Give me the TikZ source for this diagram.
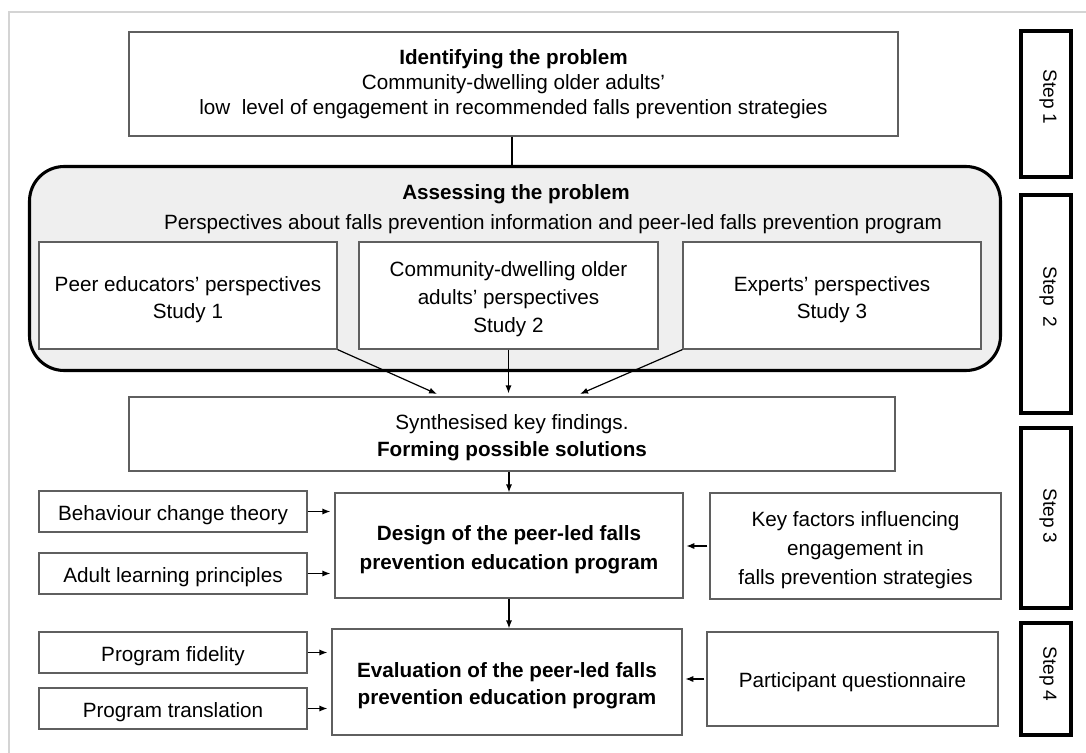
\documentclass[tikz,border=0pt]{standalone}
\usepackage{fontspec}
\setmainfont{Liberation Sans}
\usetikzlibrary{arrows.meta}
\definecolor{boxline}{RGB}{95,95,95}
\definecolor{panelfill}{RGB}{239,239,239}
\definecolor{framegray}{RGB}{212,212,212}
\begin{document}
\begin{tikzpicture}[x=0.75pt,y=-0.75pt,
  sz/.style 2 args={minimum width=#1*0.75pt, minimum height=#2*0.75pt},
  txt/.style={font=\fontsize{15.5}{20}\selectfont, align=center, inner sep=0pt},
  frame/.style={draw=boxline, line width=0.9pt, fill=white},
  % one-line boxes: the strut lifts the line's top so the words sit a little low
  box/.style={frame, txt, execute at begin node={\rule{0pt}{16.5pt}}},
  % text block of a multi-line box, set a little below the box centre
  inbox/.style={txt, yshift=-3pt},
  stepbox/.style={draw=black, line width=3pt, fill=white, inner sep=0pt},
  steplabel/.style={rotate=-90, font=\fontsize{14.3}{17}\selectfont, inner sep=0pt},
  arr/.style={-{Latex[length=6pt,width=4.6pt]}, line width=0.9pt, black},
]
\useasboundingbox (0,0) rectangle (1086,753);
% light page frame
\draw[framegray, line width=1.2pt] (9,760) -- (9,12) -- (1090,12);

% step 1
\node[frame, sz={769}{104}] (ident) at (513.5,84) {};
\node[txt, font=\fontsize{15.5}{18.75}\selectfont] (identt) at (ident.center)
  {\textbf{Identifying the problem}\\Community-dwelling older adults'\\low\ \ level of engagement in recommended falls prevention strategies};

% step 2 panel
\node[draw=black, line width=2.3pt, fill=panelfill, rounded corners=26pt, sz={971}{204}] (assess) at (515,268.5) {};
\node[txt, font=\bfseries\fontsize{15.5}{20}\selectfont] (assesst) at (516,194) {Assessing the problem};
\node[txt] (assesss) at (553,224) {Perspectives about falls prevention information and peer-led falls prevention program};
\node[frame, sz={298}{107}] (s1) at (188,295.5) {};
\node[inbox] (s1t) at (s1.center) {Peer educators' perspectives\\Study 1};
\node[frame, sz={299}{107}] (s2) at (508.5,295.5) {};
\node[inbox, font=\fontsize{15.5}{21}\selectfont] (s2t) at (s2.center) {Community-dwelling older\\adults' perspectives\\Study 2};
\node[frame, sz={298}{107}] (s3) at (832,295.5) {};
\node[inbox] (s3t) at (s3.center) {Experts' perspectives\\Study 3};

\node[frame, sz={766}{74}] (synth) at (512,434) {};
\node[inbox] (syntht) at (synth.center) {Synthesised key findings.\\\textbf{Forming possible solutions}};

% step 3
\node[box, sz={268}{41}] (beh) at (173,511.5) {Behaviour change theory};
\node[box, sz={268}{41}] (adult) at (173,573.5) {Adult learning principles};
\node[frame, sz={348}{105}] (design) at (509,545.5) {};
\node[inbox, font=\bfseries\fontsize{15.5}{21.5}\selectfont] (designt) at (design.center) {Design of the peer-led falls\\prevention education program};
\node[frame, sz={291}{106}] (key) at (855.5,546) {};
\node[inbox, font=\fontsize{15.5}{21.5}\selectfont] (keyt) at (key.center) {Key factors influencing\\engagement in\\falls prevention strategies};

% step 4
\node[box, sz={268}{41}] (fid) at (173,652.5) {Program fidelity};
\node[box, sz={268}{41}] (trans) at (173,708.5) {Program translation};
\node[frame, sz={350}{106}] (eval) at (507,682) {};
\node[inbox, font=\bfseries\fontsize{15.5}{20.5}\selectfont] (evalt) at (eval.center) {Evaluation of the peer-led falls\\prevention education program};
\node[box, sz={291}{94}] (part) at (852.5,679) {Participant questionnaire};

% step markers
\node[stepbox, sz={50}{146}] (st1) at (1046,104) {};
\node[steplabel] (st1t) at (1048,97) {Step 1};
\node[stepbox, sz={50}{218}] (st2) at (1046,304) {};
\node[steplabel] (st2t) at (1048,297) {Step\ \ 2};
\node[stepbox, sz={50}{180}] (st3) at (1046,518) {};
\node[steplabel] (st3t) at (1048,516) {Step 3};
\node[stepbox, sz={50}{112}] (st4) at (1046,679) {};
\node[steplabel] (st4t) at (1048,674) {Step 4};

% connectors
\draw[line width=0.9pt] (ident.south -| 512,0) -- (assess.north -| 512,0);
\coordinate (in1) at (437,394);
\coordinate (in3) at (580,394);
\draw[arr] (s1.south east) -- (in1);
\draw[arr] (s2.south) -- ([yshift=2.25pt]synth.north -| s2.south);
\draw[arr] (s3.south west) -- (in3);
\draw[arr] (synth.south -| 509,0) -- (design.north -| 509,0);
\draw[arr] (design.south -| 509,0) -- (eval.north -| 509,0);
\draw[arr, shorten >=3pt] (beh.east) -- (beh.east -| design.west);
\draw[arr, shorten >=3pt] (adult.east) -- (adult.east -| design.west);
\draw[arr, shorten >=2pt, shorten <=1.5pt] (key.west) -- (key.west -| design.east);
\draw[arr, shorten >=3pt] (fid.east) -- (fid.east -| eval.west);
\draw[arr, shorten >=3pt] (trans.east) -- (trans.east -| eval.west);
\draw[arr, shorten >=2pt, shorten <=1.5pt] (part.west) -- (part.west -| eval.east);
\end{tikzpicture}
\end{document}
